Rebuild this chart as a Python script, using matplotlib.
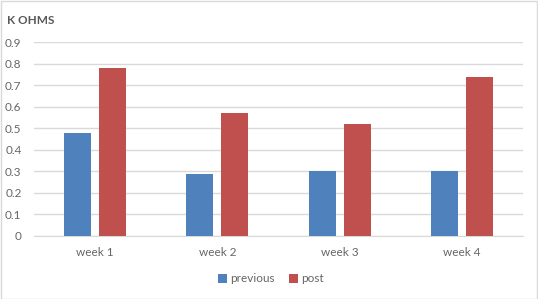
import matplotlib
matplotlib.use("Agg")
import matplotlib.pyplot as plt
import numpy as np
from matplotlib.patches import Rectangle

categories = ["week 1", "week 2", "week 3", "week 4"]
previous = [0.48, 0.29, 0.30, 0.30]
post = [0.78, 0.57, 0.52, 0.74]
yticks = [0, 0.1, 0.2, 0.3, 0.4, 0.5, 0.6, 0.7, 0.8, 0.9]

plt.rcParams["font.family"] = ["Lato", "DejaVu Sans"]

W, H = 538, 299
fig = plt.figure(figsize=(W/100, H/100), dpi=100)
fig.patch.set_facecolor("white")
fig.patches.append(Rectangle((0.5/W, 0.5/H), 1-1.5/W, 1-1.5/H, transform=fig.transFigure,
                             fill=False, edgecolor="#D9D9D9", linewidth=1))

ax = fig.add_axes([34/W, 63/H, (523-34)/W, (236-42.3)/H])
x = np.arange(len(categories))
bw = 0.221
off = 0.143
ax.bar(x - off, previous, bw, color="#4F81BD", label="previous", zorder=3, linewidth=0)
ax.bar(x + off, post, bw, color="#C0504D", label="post", zorder=3, linewidth=0)
ax.set_xlim(-0.5, len(categories) - 0.5)
ax.set_ylim(0, 0.9)
ax.set_yticks(yticks)
ax.set_yticklabels([f"{t:g}" for t in yticks])
ax.set_xticks(x)
ax.set_xticklabels(categories)
ax.grid(axis="y", color="#D9D9D9", linewidth=1, zorder=0)
for s in ["top", "right", "left"]:
    ax.spines[s].set_visible(False)
ax.spines["bottom"].set_color("#D9D9D9")
ax.tick_params(axis="both", length=0, labelsize=8.5, labelcolor="#666666", colors="#666666")
ax.tick_params(axis="y", pad=9)
ax.tick_params(axis="x", pad=8)

fig.text(7/W, 1 - 20/H, "K OHMS", fontsize=8.5, color="#595959", va="center", ha="left", fontweight="bold")

leg = fig.legend(loc="center", bbox_to_anchor=(271/W, 1 - 279/H), ncol=2, frameon=False,
                 fontsize=8.5, handlelength=0.75, handleheight=0.75, handletextpad=0.3,
                 columnspacing=1.2, labelcolor="#666666")

fig.savefig("out.png", dpi=100, facecolor="white")
